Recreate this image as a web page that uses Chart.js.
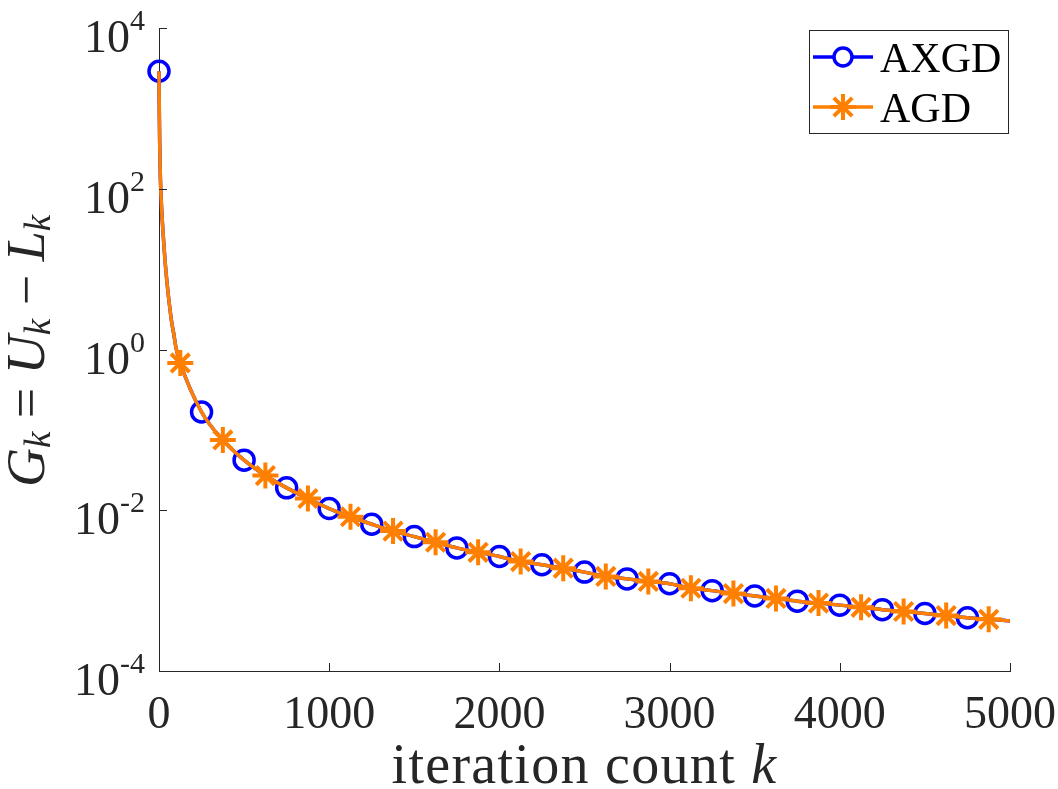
<!DOCTYPE html>
<html>
<head>
<meta charset="utf-8">
<script src="https://cdn.jsdelivr.net/npm/chart.js@4/dist/chart.umd.min.js"></script>
<style>
  html, body { margin: 0; padding: 0; background: #fff; }
  canvas { display: block; }
</style>
</head>
<body>
<canvas id="myChart" width="1058" height="789"></canvas>
<script>
// values
const axgdK = [0, 250, 500, 750, 1000, 1250, 1500, 1750, 2000, 2250,
               2500, 2750, 3000, 3250, 3500, 3750, 4000, 4250, 4500, 4750];
const axgdVals = [2900, 0.167, 0.042, 0.019, 0.0105, 0.0067, 0.0047, 0.0034, 0.00266, 0.0021,
                  0.0017, 0.0014, 0.00122, 0.0010, 0.00086, 0.00074, 0.00066, 0.00058, 0.00052, 0.00046];

const agdK = [125, 375, 625, 875, 1125, 1375, 1625, 1875, 2125, 2375,
              2625, 2875, 3125, 3375, 3625, 3875, 4125, 4375, 4625, 4875];
const agdVals = [0.68, 0.075, 0.027, 0.0140, 0.0083, 0.0055, 0.0040, 0.0030, 0.0023, 0.0019,
                 0.0015, 0.0013, 0.00107, 0.00092, 0.00080, 0.00070, 0.00062, 0.00055, 0.00049, 0.00044];

// the steep start of the curve and its end point (line only, no markers)
const headK = [1, 2, 4, 8, 14, 24, 35, 47, 60, 73, 86, 100];
const headVals = [1500, 850, 380, 140, 65, 28, 13, 6.8, 3.8, 2.3, 1.6, 1.05];
const endK = [5000];
const endVals = [0.00042];

const xTicks = [0, 1000, 2000, 3000, 4000, 5000];
const yTickExps = [4, 2, 0, -2, -4];

const BLUE = '#0000ff';
const ORANGE = '#ff8000';
const INK = '#262626';
const SERIF = '"Liberation Serif", "Times New Roman", serif';

function toPoints(ks, vs) {
    return ks.map((k, i) => ({ x: k, y: vs[i] }));
}

const curve = toPoints(headK, headVals)
    .concat(toPoints(axgdK, axgdVals), toPoints(agdK, agdVals), toPoints(endK, endVals))
    .sort((a, b) => a.x - b.x);

// ticks, labels, titles and legend drawn the MATLAB way
const matlabLook = {
    id: 'matlabLook',
    afterDraw(chart) {
        const ctx = chart.ctx;
        const xs = chart.scales.x, ys = chart.scales.y;
        const area = chart.chartArea;
        ctx.save();
        ctx.strokeStyle = INK;
        ctx.fillStyle = INK;
        ctx.lineWidth = 1;

        // inward ticks
        ctx.beginPath();
        xTicks.forEach(t => {
            const px = Math.round(xs.getPixelForValue(t)) + 0.5;
            ctx.moveTo(px, area.bottom);
            ctx.lineTo(px, area.bottom - 8);
        });
        yTickExps.forEach(e => {
            const py = Math.round(ys.getPixelForValue(Math.pow(10, e))) + 0.5;
            ctx.moveTo(area.left, py);
            ctx.lineTo(area.left + 8, py);
        });
        ctx.stroke();

        // x tick labels
        ctx.font = '46px ' + SERIF;
        ctx.textAlign = 'center';
        ctx.textBaseline = 'alphabetic';
        xTicks.forEach(t => {
            ctx.fillText(String(t), xs.getPixelForValue(t), area.bottom + 57);
        });

        // y tick labels 10^e
        ctx.textAlign = 'left';
        yTickExps.forEach(e => {
            const py = ys.getPixelForValue(Math.pow(10, e));
            const exp = e < 0 ? '-' + (-e) : String(e);
            ctx.font = '30px ' + SERIF;
            const ew = ctx.measureText(exp).width;
            ctx.font = '46px ' + SERIF;
            const mw = ctx.measureText('10').width;
            const right = area.left - 14;
            ctx.fillText('10', right - ew - mw, py + 24);
            ctx.font = '30px ' + SERIF;
            ctx.fillText(exp, right - ew, py + 2);
        });

        // x title
        const cx = (area.left + area.right) / 2;
        ctx.letterSpacing = '1.3px';
        ctx.font = '56px ' + SERIF;
        const w1 = ctx.measureText('iteration count ').width;
        ctx.font = 'italic 56px ' + SERIF;
        const w2 = ctx.measureText('k').width;
        let sx = cx - (w1 + w2) / 2;
        ctx.font = '56px ' + SERIF;
        ctx.fillText('iteration count ', sx, 783);
        ctx.font = 'italic 56px ' + SERIF;
        ctx.fillText('k', sx + w1, 783);
        ctx.letterSpacing = '0px';

        // y title, rotated
        const parts = [
            ['G', 'italic 54px', 0], ['k', 'italic 37px', 6], [' = ', '54px', 0],
            ['U', 'italic 54px', 0], ['k', 'italic 37px', 6], [' \u2212 ', '54px', 0],
            ['L', 'italic 54px', 0], ['k', 'italic 37px', 6]
        ];
        let total = 0;
        parts.forEach(p => { ctx.font = p[1] + ' ' + SERIF; p.push(ctx.measureText(p[0]).width); total += p[3]; });
        ctx.translate(44, 351);
        ctx.rotate(-Math.PI / 2);
        let px = -total / 2;
        parts.forEach(p => {
            ctx.font = p[1] + ' ' + SERIF;
            ctx.fillText(p[0], px, p[2]);
            px += p[3];
        });
        ctx.setTransform(1, 0, 0, 1, 0, 0);

        // legend
        const lx = 809, ly = 30, lw = 199, lh = 103;
        ctx.fillStyle = '#fff';
        ctx.fillRect(lx, ly, lw, lh);
        ctx.strokeStyle = INK;
        ctx.lineWidth = 1;
        ctx.strokeRect(lx + 0.5, ly + 0.5, lw, lh);
        const rows = [
            { label: 'AXGD', color: BLUE, style: 'circle', r: 9, bw: 3.5, y: 57 },
            { label: 'AGD', color: ORANGE, style: 'star', r: 13, bw: 4, y: 107 }
        ];
        rows.forEach(r => {
            ctx.strokeStyle = r.color;
            ctx.lineWidth = 3.5;
            ctx.beginPath();
            ctx.moveTo(813, r.y);
            ctx.lineTo(873, r.y);
            ctx.stroke();
            ctx.lineWidth = r.bw;
            Chart.helpers.drawPoint(ctx, { pointStyle: r.style, radius: r.r, borderWidth: r.bw, rotation: 0 }, 843, r.y);
            ctx.fillStyle = '#000';
            ctx.font = '42px ' + SERIF;
            ctx.textAlign = 'left';
            ctx.fillText(r.label, 880, r.y + 15);
        });
        ctx.restore();
    }
};

const ctx = document.getElementById('myChart');

new Chart(ctx, {
    type: 'line',
    data: {
        datasets: [
            {
                label: 'AGD',
                data: curve,
                borderColor: ORANGE,
                borderWidth: 3.5,
                pointRadius: 0,
                cubicInterpolationMode: 'monotone',
                clip: false,
                order: 1
            },
            {
                label: 'AGD markers',
                data: toPoints(agdK, agdVals),
                showLine: false,
                pointStyle: 'star',
                pointRadius: 13,
                borderColor: ORANGE,
                backgroundColor: ORANGE,
                pointBorderWidth: 4,
                clip: false,
                order: 0
            },
            {
                label: 'AXGD',
                data: curve,
                borderColor: BLUE,
                borderWidth: 3.5,
                pointRadius: 0,
                cubicInterpolationMode: 'monotone',
                clip: false,
                order: 3
            },
            {
                label: 'AXGD markers',
                data: toPoints(axgdK, axgdVals),
                showLine: false,
                pointStyle: 'circle',
                pointRadius: 10,
                borderColor: BLUE,
                backgroundColor: 'rgba(0,0,0,0)',
                pointBorderWidth: 3.5,
                clip: false,
                order: 2
            }
        ]
    },
    options: {
        responsive: false,
        animation: false,
        devicePixelRatio: 1,
        layout: { padding: { left: 159, right: 48, top: 28, bottom: 118 } },
        plugins: { legend: { display: false }, tooltip: { enabled: false } },
        scales: {
            x: {
                type: 'linear',
                min: 0,
                max: 5000,
                ticks: { display: false, stepSize: 1000 },
                grid: { display: false },
                border: { display: true, color: INK, width: 1 },
                afterFit(s) { s.height = 0; }
            },
            y: {
                type: 'logarithmic',
                min: 1e-4,
                max: 1e4,
                ticks: { display: false },
                grid: { display: false },
                border: { display: true, color: INK, width: 1 },
                afterFit(s) { s.width = 0; }
            }
        }
    },
    plugins: [matlabLook]
});
</script>
</body>
</html>
